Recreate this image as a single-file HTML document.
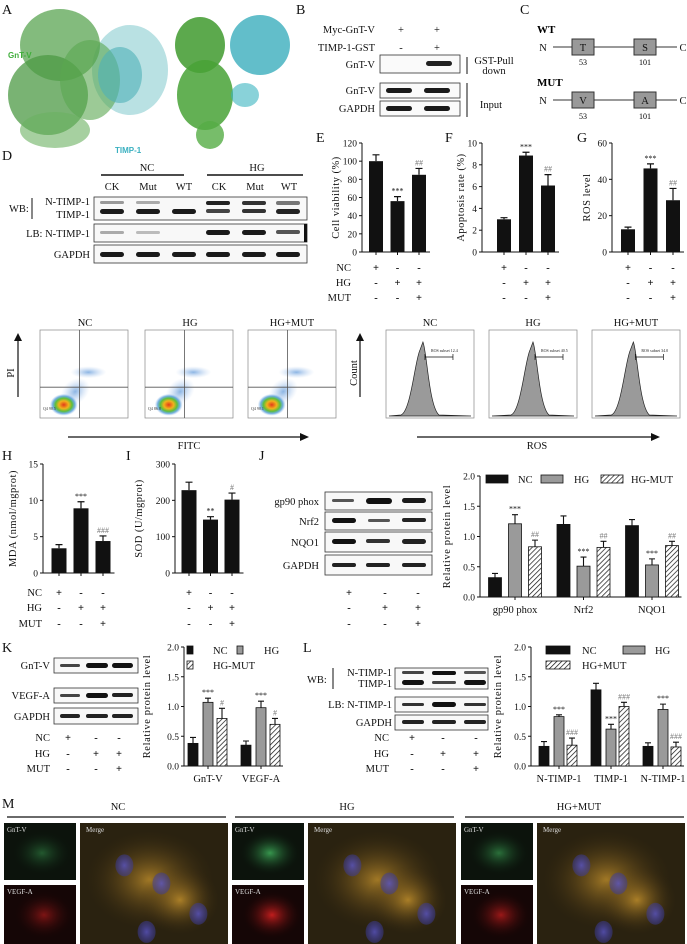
<!DOCTYPE html>
<html><head><meta charset="utf-8">
<style>
html,body{margin:0;padding:0;background:#fff;}
svg{display:block;font-family:"Liberation Serif",serif;}
.t{font-size:10.5px;fill:#111;}
.pl{font-size:14px;fill:#111;}
.tk{font-size:9.5px;fill:#111;}
</style></head>
<body>
<svg id="fig" width="687" height="944" viewBox="0 0 687 944" xmlns="http://www.w3.org/2000/svg">
<defs>
 <pattern id="hatch" patternUnits="userSpaceOnUse" width="3.5" height="3.5" patternTransform="rotate(45)">
  <rect width="3.5" height="3.5" fill="#fff"/><line x1="0" y1="0" x2="0" y2="3.5" stroke="#111" stroke-width="1.4"/>
 </pattern>
 <radialGradient id="gcore"><stop offset="0" stop-color="#e23a1a"/><stop offset=".35" stop-color="#f2b21c"/><stop offset=".6" stop-color="#5cbf3a"/><stop offset=".8" stop-color="#3a8fd6" stop-opacity=".7"/><stop offset="1" stop-color="#8fb8e8" stop-opacity="0"/></radialGradient>
 <radialGradient id="gcloud"><stop offset="0" stop-color="#5a95d8" stop-opacity=".7"/><stop offset="1" stop-color="#a9c6ee" stop-opacity="0"/></radialGradient>
 <radialGradient id="ggreen"><stop offset="0" stop-color="#3fae5a"/><stop offset="1" stop-color="#0b1a0e" stop-opacity="0"/></radialGradient>
 <radialGradient id="gred"><stop offset="0" stop-color="#d42020"/><stop offset="1" stop-color="#1a0505" stop-opacity="0"/></radialGradient>
 <radialGradient id="gyel"><stop offset="0" stop-color="#d8a030"/><stop offset="1" stop-color="#3a2a10" stop-opacity="0"/></radialGradient>
 <radialGradient id="gblue"><stop offset="0" stop-color="#5a55c8"/><stop offset="1" stop-color="#3a3a9a" stop-opacity=".6"/></radialGradient>
</defs>

<!-- Panel A -->
<text class="pl" x="2" y="14">A</text>
<g>
 <ellipse cx="130" cy="70" rx="38" ry="45" fill="#7fc8cc" opacity=".55"/>
 <ellipse cx="60" cy="45" rx="40" ry="36" fill="#4f9e46" opacity=".7"/>
 <ellipse cx="48" cy="95" rx="40" ry="40" fill="#4c9a44" opacity=".75"/>
 <ellipse cx="55" cy="130" rx="35" ry="18" fill="#6bb060" opacity=".6"/>
 <ellipse cx="90" cy="80" rx="30" ry="40" fill="#5aa650" opacity=".6"/>
 <ellipse cx="120" cy="75" rx="22" ry="28" fill="#4fb0b8" opacity=".6"/>
 <text x="8" y="58" font-family="Liberation Sans" font-size="8" font-weight="bold" fill="#3fae3a">GnT-V</text>
 <text x="115" y="153" font-family="Liberation Sans" font-size="8" font-weight="bold" fill="#3ab0c0">TIMP-1</text>
</g>
<g>
 <ellipse cx="200" cy="45" rx="25" ry="28" fill="#3f9a2e" opacity=".85"/>
 <ellipse cx="205" cy="95" rx="28" ry="35" fill="#48a236" opacity=".85"/>
 <ellipse cx="210" cy="135" rx="14" ry="14" fill="#55ad45" opacity=".8"/>
 <ellipse cx="260" cy="45" rx="30" ry="30" fill="#2ea8b8" opacity=".75"/>
 <ellipse cx="245" cy="95" rx="14" ry="12" fill="#3ab4c0" opacity=".6"/>
</g>

<!-- Panel B -->
<text class="pl" x="296" y="14">B</text>
<text class="t" x="375" y="33" text-anchor="end">Myc-GnT-V</text>
<text class="t" x="375" y="51" text-anchor="end">TIMP-1-GST</text>
<text class="t" x="401" y="33" text-anchor="middle">+</text><text class="t" x="437" y="33" text-anchor="middle">+</text>
<text class="t" x="401" y="51" text-anchor="middle">-</text><text class="t" x="437" y="51" text-anchor="middle">+</text>
<g>
 <rect x="380" y="55" width="80" height="18" fill="#fafafa" stroke="#333" stroke-width=".8"/>
 <rect x="426" y="61" width="26" height="5" rx="2.5" fill="#222"/>
 <rect x="380" y="83" width="80" height="15" fill="#fafafa" stroke="#333" stroke-width=".8"/>
 <rect x="386" y="88" width="26" height="5" rx="2.5" fill="#1a1a1a"/><rect x="424" y="88" width="26" height="5" rx="2.5" fill="#1a1a1a"/>
 <rect x="380" y="101" width="80" height="15" fill="#fafafa" stroke="#333" stroke-width=".8"/>
 <rect x="386" y="106" width="26" height="5" rx="2.5" fill="#1a1a1a"/><rect x="424" y="106" width="26" height="5" rx="2.5" fill="#1a1a1a"/>
</g>
<text class="t" x="375" y="68" text-anchor="end">GnT-V</text>
<text class="t" x="375" y="94" text-anchor="end">GnT-V</text>
<text class="t" x="375" y="112" text-anchor="end">GAPDH</text>
<line x1="467" y1="57" x2="467" y2="74" stroke="#111"/>
<text class="t" x="494" y="64" text-anchor="middle">GST-Pull</text>
<text class="t" x="494" y="74" text-anchor="middle">down</text>
<line x1="467" y1="83" x2="467" y2="117" stroke="#111"/>
<text class="t" x="491" y="108" text-anchor="middle">Input</text>

<!-- Panel C -->
<text class="pl" x="520" y="14">C</text>
<g>
 <text x="537" y="33" font-size="11" font-weight="bold">WT</text>
 <text class="t" x="543" y="51" text-anchor="middle">N</text>
 <line x1="553" y1="47" x2="677" y2="47" stroke="#333"/>
 <text class="t" x="683" y="51" text-anchor="middle">C</text>
 <rect x="572" y="39" width="22" height="16" fill="#999" stroke="#333"/><text class="t" x="583" y="51" text-anchor="middle">T</text>
 <rect x="634" y="39" width="22" height="16" fill="#999" stroke="#333"/><text class="t" x="645" y="51" text-anchor="middle">S</text>
 <text x="583" y="65" font-size="8" text-anchor="middle">53</text><text x="645" y="65" font-size="8" text-anchor="middle">101</text>
</g>
<g>
 <text x="537" y="86" font-size="11" font-weight="bold">MUT</text>
 <text class="t" x="543" y="104" text-anchor="middle">N</text>
 <line x1="553" y1="100" x2="677" y2="100" stroke="#333"/>
 <text class="t" x="683" y="104" text-anchor="middle">C</text>
 <rect x="572" y="92" width="22" height="16" fill="#999" stroke="#333"/><text class="t" x="583" y="104" text-anchor="middle">V</text>
 <rect x="634" y="92" width="22" height="16" fill="#999" stroke="#333"/><text class="t" x="645" y="104" text-anchor="middle">A</text>
 <text x="583" y="119" font-size="8" text-anchor="middle">53</text><text x="645" y="119" font-size="8" text-anchor="middle">101</text>
</g>

<!-- Panel D -->
<text class="pl" x="2" y="160">D</text>
<text class="t" x="147" y="171" text-anchor="middle">NC</text><text class="t" x="257" y="171" text-anchor="middle">HG</text>
<line x1="101" y1="175" x2="184" y2="175" stroke="#111" stroke-width="1.5"/><line x1="207" y1="175" x2="303" y2="175" stroke="#111" stroke-width="1.5"/>
<g><text x="112" y="190" text-anchor="middle" class="t">CK</text><text x="148" y="190" text-anchor="middle" class="t">Mut</text><text x="184" y="190" text-anchor="middle" class="t">WT</text><text x="219" y="190" text-anchor="middle" class="t">CK</text><text x="255" y="190" text-anchor="middle" class="t">Mut</text><text x="289" y="190" text-anchor="middle" class="t">WT</text></g>
<g>
 <rect x="94" y="197" width="213" height="23" fill="#f8f8f8" stroke="#333" stroke-width=".8"/>
 <rect x="100" y="201" width="24" height="3" rx="1.5" fill="#999"/><rect x="136" y="201" width="24" height="3" rx="1.5" fill="#aaa"/>
 <rect x="206" y="201" width="24" height="4" rx="2" fill="#222"/><rect x="242" y="201" width="24" height="4" rx="2" fill="#333"/><rect x="276" y="201" width="24" height="4" rx="2" fill="#777"/>
 <rect x="100" y="209" width="24" height="5" rx="2.5" fill="#1a1a1a"/><rect x="136" y="209" width="24" height="5" rx="2.5" fill="#1a1a1a"/><rect x="172" y="209" width="24" height="5" rx="2.5" fill="#1a1a1a"/>
 <rect x="206" y="209" width="24" height="4" rx="2" fill="#444"/><rect x="242" y="209" width="24" height="4" rx="2" fill="#333"/><rect x="276" y="209" width="24" height="5" rx="2.5" fill="#222"/>
 <rect x="94" y="224" width="213" height="18" fill="#f8f8f8" stroke="#333" stroke-width=".8"/>
 <rect x="100" y="231" width="24" height="3" rx="1.5" fill="#aaa"/><rect x="136" y="231" width="24" height="3" rx="1.5" fill="#bbb"/>
 <rect x="206" y="230" width="24" height="5" rx="2.5" fill="#1a1a1a"/><rect x="242" y="230" width="24" height="5" rx="2.5" fill="#1a1a1a"/><rect x="276" y="230" width="24" height="4" rx="2" fill="#555"/>
 <rect x="304" y="224" width="3" height="18" fill="#111"/>
 <rect x="94" y="245" width="213" height="18" fill="#f8f8f8" stroke="#333" stroke-width=".8"/>
 <rect x="100" y="252" width="24" height="5" rx="2.5" fill="#1a1a1a"/><rect x="136" y="252" width="24" height="5" rx="2.5" fill="#1a1a1a"/><rect x="172" y="252" width="24" height="5" rx="2.5" fill="#1a1a1a"/><rect x="206" y="252" width="24" height="5" rx="2.5" fill="#1a1a1a"/><rect x="242" y="252" width="24" height="5" rx="2.5" fill="#1a1a1a"/><rect x="276" y="252" width="24" height="5" rx="2.5" fill="#1a1a1a"/>
</g>
<text class="t" x="9" y="212">WB:</text>
<line x1="32" y1="198" x2="32" y2="219" stroke="#111"/>
<text class="t" x="90" y="205" text-anchor="end">N-TIMP-1</text>
<text class="t" x="90" y="218" text-anchor="end">TIMP-1</text>
<text class="t" x="90" y="237" text-anchor="end">LB: N-TIMP-1</text>
<text class="t" x="90" y="258" text-anchor="end">GAPDH</text>

<text class="pl" x="316" y="142">E</text>
<text class="pl" x="445" y="142">F</text>
<text class="pl" x="577" y="142">G</text>

<!-- flow cytometry row -->
<g>
<text x="85" y="326" text-anchor="middle" class="t">NC</text><text x="190" y="326" text-anchor="middle" class="t">HG</text><text x="292" y="326" text-anchor="middle" class="t">HG+MUT</text>
<text x="430" y="326" text-anchor="middle" class="t">NC</text><text x="533" y="326" text-anchor="middle" class="t">HG</text><text x="636" y="326" text-anchor="middle" class="t">HG+MUT</text>
</g>
<g id="flowArea"></g>
<line x1="18" y1="397" x2="18" y2="339" stroke="#111" stroke-width="1.2"/><polygon points="14,341 22,341 18,333" fill="#111"/>
<text class="t" x="0" y="0" transform="translate(14,373) rotate(-90)" text-anchor="middle">PI</text>
<line x1="68" y1="437" x2="302" y2="437" stroke="#111" stroke-width="1.2"/><polygon points="300,433 300,441 309,437" fill="#111"/>
<text class="t" x="189" y="449" text-anchor="middle">FITC</text>
<line x1="360" y1="397" x2="360" y2="339" stroke="#111" stroke-width="1.2"/><polygon points="356,341 364,341 360,333" fill="#111"/>
<text class="t" x="0" y="0" transform="translate(357,373) rotate(-90)" text-anchor="middle">Count</text>
<line x1="417" y1="437" x2="653" y2="437" stroke="#111" stroke-width="1.2"/><polygon points="651,433 651,441 660,437" fill="#111"/>
<text class="t" x="537" y="449" text-anchor="middle">ROS</text>

<text class="pl" x="2" y="460">H</text>
<text class="pl" x="126" y="460">I</text>
<text class="pl" x="259" y="460">J</text>
<g>
 <rect x="325" y="492" width="107" height="18" fill="#f8f8f8" stroke="#333" stroke-width=".8"/>
 <rect x="332" y="499" width="22" height="3" rx="1.5" fill="#555"/><rect x="366" y="498" width="26" height="6" rx="3" fill="#111"/><rect x="402" y="498" width="24" height="5" rx="2.5" fill="#1a1a1a"/>
 <rect x="325" y="512" width="107" height="18" fill="#f8f8f8" stroke="#333" stroke-width=".8"/>
 <rect x="332" y="518" width="24" height="5" rx="2.5" fill="#111"/><rect x="368" y="519" width="22" height="3" rx="1.5" fill="#555"/><rect x="402" y="518" width="24" height="4" rx="2" fill="#222"/>
 <rect x="325" y="532" width="107" height="20" fill="#f8f8f8" stroke="#333" stroke-width=".8"/>
 <rect x="332" y="539" width="24" height="5" rx="2.5" fill="#111"/><rect x="366" y="539" width="24" height="4" rx="2" fill="#333"/><rect x="402" y="539" width="24" height="5" rx="2.5" fill="#222"/>
 <rect x="325" y="555" width="107" height="20" fill="#f8f8f8" stroke="#333" stroke-width=".8"/>
 <rect x="332" y="563" width="24" height="4" rx="2" fill="#222"/><rect x="366" y="563" width="24" height="4" rx="2" fill="#222"/><rect x="402" y="563" width="24" height="4" rx="2" fill="#222"/>
</g>
<text class="t" x="319" y="505" text-anchor="end">gp90 phox</text>
<text class="t" x="319" y="525" text-anchor="end">Nrf2</text>
<text class="t" x="319" y="546" text-anchor="end">NQO1</text>
<text class="t" x="319" y="569" text-anchor="end">GAPDH</text>

<text class="pl" x="2" y="652">K</text>
<g>
 <rect x="54" y="658" width="84" height="15" fill="#f8f8f8" stroke="#333" stroke-width=".8"/>
 <rect x="60" y="664" width="20" height="3" rx="1.5" fill="#444"/><rect x="86" y="663" width="22" height="5" rx="2.5" fill="#111"/><rect x="112" y="663" width="21" height="5" rx="2.5" fill="#111"/>
 <rect x="54" y="688" width="84" height="15" fill="#f8f8f8" stroke="#333" stroke-width=".8"/>
 <rect x="60" y="694" width="20" height="3" rx="1.5" fill="#444"/><rect x="86" y="693" width="22" height="5" rx="2.5" fill="#111"/><rect x="112" y="693" width="21" height="4" rx="2" fill="#222"/>
 <rect x="54" y="708" width="84" height="16" fill="#f8f8f8" stroke="#333" stroke-width=".8"/>
 <rect x="60" y="714" width="20" height="4" rx="2" fill="#222"/><rect x="86" y="714" width="22" height="4" rx="2" fill="#222"/><rect x="112" y="714" width="21" height="4" rx="2" fill="#222"/>
</g>
<text class="t" x="50" y="669" text-anchor="end">GnT-V</text>
<text class="t" x="50" y="699" text-anchor="end">VEGF-A</text>
<text class="t" x="50" y="720" text-anchor="end">GAPDH</text>

<text class="pl" x="303" y="652">L</text>
<g>
 <rect x="395" y="668" width="93" height="21" fill="#f8f8f8" stroke="#333" stroke-width=".8"/>
 <rect x="402" y="671" width="22" height="3" rx="1.5" fill="#444"/><rect x="432" y="671" width="24" height="4" rx="2" fill="#111"/><rect x="464" y="671" width="22" height="3" rx="1.5" fill="#555"/>
 <rect x="402" y="680" width="22" height="5" rx="2.5" fill="#111"/><rect x="432" y="681" width="24" height="3" rx="1.5" fill="#444"/><rect x="464" y="680" width="22" height="5" rx="2.5" fill="#111"/>
 <rect x="395" y="697" width="93" height="15" fill="#f8f8f8" stroke="#333" stroke-width=".8"/>
 <rect x="402" y="703" width="22" height="3" rx="1.5" fill="#333"/><rect x="432" y="702" width="24" height="5" rx="2.5" fill="#111"/><rect x="464" y="703" width="22" height="3" rx="1.5" fill="#333"/>
 <rect x="395" y="715" width="93" height="15" fill="#f8f8f8" stroke="#333" stroke-width=".8"/>
 <rect x="402" y="720" width="22" height="4" rx="2" fill="#222"/><rect x="432" y="720" width="24" height="4" rx="2" fill="#222"/><rect x="464" y="720" width="22" height="4" rx="2" fill="#222"/>
</g>
<text class="t" x="307" y="683">WB:</text>
<line x1="333" y1="668" x2="333" y2="689" stroke="#111"/>
<text class="t" x="392" y="676" text-anchor="end">N-TIMP-1</text>
<text class="t" x="392" y="687" text-anchor="end">TIMP-1</text>
<text class="t" x="392" y="708" text-anchor="end">LB: N-TIMP-1</text>
<text class="t" x="392" y="726" text-anchor="end">GAPDH</text>

<g id="charts"></g>

<!-- Panel M -->
<text class="pl" x="2" y="808">M</text>
<text class="t" x="118" y="810" text-anchor="middle">NC</text>
<text class="t" x="347" y="810" text-anchor="middle">HG</text>
<text class="t" x="579" y="810" text-anchor="middle">HG+MUT</text>
<line x1="7" y1="817" x2="226" y2="817" stroke="#111" stroke-width="1.3"/>
<line x1="235" y1="817" x2="454" y2="817" stroke="#111" stroke-width="1.3"/>
<line x1="465" y1="817" x2="684" y2="817" stroke="#111" stroke-width="1.3"/>
<g id="micro"></g>
</svg>
<script>
const NS='http://www.w3.org/2000/svg';
function mk(tag,attrs,parent){const e=document.createElementNS(NS,tag);for(const k in attrs)e.setAttribute(k,attrs[k]);parent.appendChild(e);return e;}

/* ---------- chart data ---------- */
const groupsSimple=['NC','HG','HG+MUT'];
const eValues=[100,56,85]; const eErrors=[7,5,7]; const eMarks=['','***','##'];
const eTicks=[0,20,40,60,80,100,120];
const fValues=[3.0,8.85,6.1]; const fErrors=[0.15,0.3,1.0]; const fMarks=['','***','##'];
const fTicks=[0,2,4,6,8,10];
const gValues=[12.5,46,28.5]; const gErrors=[1.2,2.5,6.5]; const gMarks=['','***','##'];
const gTicks=[0,20,40,60];
const hValues=[3.4,8.9,4.4]; const hErrors=[0.5,0.9,0.7]; const hMarks=['','***','###'];
const hTicks=[0,5,10,15];
const iValues=[228,147,202]; const iErrors=[22,8,18]; const iMarks=['','**','#'];
const iTicks=[0,100,200,300];
const relTicks=['0.0','0.5','1.0','1.5','2.0'];
const jCategories=['gp90 phox','Nrf2','NQO1'];
const jNC=[0.32,1.2,1.18]; const jHG=[1.21,0.51,0.53]; const jMUT=[0.83,0.82,0.85];
const jNCerr=[0.07,0.14,0.1]; const jHGerr=[0.15,0.15,0.1]; const jMUTerr=[0.11,0.1,0.07];
const jHGmarks=['***','***','***']; const jMUTmarks=['##','##','##'];
const jLegend=['NC','HG','HG-MUT'];
const kCategories=['GnT-V','VEGF-A'];
const kNC=[0.38,0.35]; const kHG=[1.07,0.98]; const kMUT=[0.8,0.7];
const kNCerr=[0.1,0.07]; const kHGerr=[0.07,0.11]; const kMUTerr=[0.17,0.1];
const kHGmarks=['***','***']; const kMUTmarks=['#','#'];
const kLegend=['NC','HG','HG-MUT'];
const lCategories=['N-TIMP-1','TIMP-1','N-TIMP-1'];
const lNC=[0.33,1.28,0.33]; const lHG=[0.83,0.62,0.95]; const lMUT=[0.35,1.0,0.32];
const lNCerr=[0.08,0.11,0.06]; const lHGerr=[0.03,0.08,0.09]; const lMUTerr=[0.12,0.07,0.08];
const lHGmarks=['***','***','***']; const lMUTmarks=['###','###','###'];
const lLegend=['NC','HG','HG+MUT'];
const signNC=['+','-','-']; const signHG=['-','+','+']; const signMUT=['-','-','+'];

const charts=document.getElementById('charts');

function simpleChart(name,cfg,values,errors,marks,ticks){
  const g=mk('g',{},charts);
  
  
  const max=ticks[ticks.length-1];
  const y=v=>cfg.y0-(v/max)*(cfg.y0-cfg.yTop);
  const x=i=>cfg.ax+cfg.off+i*cfg.sp;
  const ya=mk('line',{x1:cfg.ax,y1:cfg.yTop,x2:cfg.ax,y2:cfg.y0,stroke:'#111','stroke-width':1},g);
  
  
  const xa=mk('line',{x1:cfg.ax,y1:cfg.y0,x2:x(values.length-1)+cfg.bw/2+4,y2:cfg.y0,stroke:'#111','stroke-width':1},g);
  
  
  ticks.forEach(t=>{
    mk('line',{x1:cfg.ax-3,y1:y(t),x2:cfg.ax,y2:y(t),stroke:'#111'},g);
    const tl=mk('text',{x:cfg.ax-5,y:y(t)+3.5,'text-anchor':'end',class:'tk'},g);
    tl.textContent=t;
    
    
  });
  values.forEach((v,i)=>{
    const b=mk('rect',{x:x(i)-cfg.bw/2,y:y(v),width:cfg.bw,height:cfg.y0-y(v),fill:'#111'},g);
    
    
    const e=mk('path',{d:`M${x(i)} ${y(v)}V${y(v+errors[i])}M${x(i)-3.5} ${y(v+errors[i])}H${x(i)+3.5}`,stroke:'#111','stroke-width':1.2,fill:'none'},g);
    
    
    mk('line',{x1:x(i),y1:cfg.y0,x2:x(i),y2:cfg.y0+3,stroke:'#111'},g);
    if(marks[i]){
      const m=mk('text',{x:x(i),y:y(v+errors[i])-3,'text-anchor':'middle','font-size':8,fill:marks[i][0]=='#'?'#777':'#111'},g);
      m.textContent=marks[i];
      
      
    }
  });
  const yl=mk('text',{transform:`translate(${cfg.labX},${(cfg.yTop+cfg.y0)/2}) rotate(-90)`,'text-anchor':'middle',class:'t','letter-spacing':'0.5'},g);
  yl.textContent=cfg.label;
  
  
  signRows(g,values.map((_,i)=>x(i)),cfg.rows,cfg.rowLabelX);
}
function signRows(g,xs,rows,labelX){
  const sets=[signNC,signHG,signMUT]; const names=['NC','HG','MUT'];
  rows.forEach((ry,r)=>{
    if(labelX){const l=mk('text',{x:labelX,y:ry+4,'text-anchor':'end',class:'t'},g);l.textContent=names[r];
      
      }
    xs.forEach((xx,i)=>{const s=mk('text',{x:xx,y:ry+4,'text-anchor':'middle',class:'t','font-weight':'bold'},g);s.textContent=sets[r][i];
      
      });
  });
}
simpleChart('chart-e-cell-viability',{ax:362,yTop:143,y0:252,off:14,sp:21.5,bw:14,label:'Cell viability (%)',labX:339,rows:[267,282,297],rowLabelX:351},eValues,eErrors,eMarks,eTicks);
simpleChart('chart-f-apoptosis',{ax:482,yTop:143,y0:252,off:22,sp:22,bw:14,label:'Apoptosis rate (%)',labX:464,rows:[267,282,297],rowLabelX:0},fValues,fErrors,fMarks,fTicks);
simpleChart('chart-g-ros',{ax:612,yTop:143,y0:252,off:16,sp:22.5,bw:14,label:'ROS level',labX:590,rows:[267,282,297],rowLabelX:0},gValues,gErrors,gMarks,gTicks);
simpleChart('chart-h-mda',{ax:43,yTop:464,y0:573,off:16,sp:22,bw:15,label:'MDA (nmol/mgprot)',labX:16,rows:[592,607,623],rowLabelX:42},hValues,hErrors,hMarks,hTicks);
simpleChart('chart-i-sod',{ax:175,yTop:464,y0:573,off:14,sp:21.5,bw:15,label:'SOD (U/mgprot)',labX:142,rows:[592,607,623],rowLabelX:0},iValues,iErrors,iMarks,iTicks);

function groupChart(name,cfg,cats,series,errs,hgMarks,mutMarks,legendNames){
  const g=mk('g',{},charts);
  
  
  const max=2.0;
  const y=v=>cfg.y0-(v/max)*(cfg.y0-cfg.yTop);
  const gx=c=>cfg.ax+cfg.off+c*cfg.sp;
  const fills=['#111','#9a9a9a','url(#hatch)'];
  const ya=mk('line',{x1:cfg.ax,y1:cfg.yTop,x2:cfg.ax,y2:cfg.y0,stroke:'#111'},g);
  
  
  const xa=mk('line',{x1:cfg.ax,y1:cfg.y0,x2:gx(cats.length-1)+cfg.bo[2]+cfg.bw/2+3,y2:cfg.y0,stroke:'#111'},g);
  
  
  relTicks.forEach(t=>{
    mk('line',{x1:cfg.ax-3,y1:y(+t),x2:cfg.ax,y2:y(+t),stroke:'#111'},g);
    const tl=mk('text',{x:cfg.ax-5,y:y(+t)+3.5,'text-anchor':'end',class:'tk'},g);tl.textContent=t;
    
    
  });
  cats.forEach((c,ci)=>{
    mk('line',{x1:gx(ci),y1:cfg.y0,x2:gx(ci),y2:cfg.y0+3,stroke:'#111'},g);
    const cl=mk('text',{x:gx(ci),y:cfg.y0+16,'text-anchor':'middle',class:'t'},g);cl.textContent=c;
    
    
    series.forEach((s,si)=>{
      const bx=gx(ci)+cfg.bo[si]; const v=s[ci]; const e=errs[si][ci];
      const b=mk('rect',{x:bx-cfg.bw/2,y:y(v),width:cfg.bw,height:cfg.y0-y(v),fill:fills[si],stroke:'#111','stroke-width':0.8},g);
      
      
      const eb=mk('path',{d:`M${bx} ${y(v)}V${y(v+e)}M${bx-3} ${y(v+e)}H${bx+3}`,stroke:'#111','stroke-width':1.1,fill:'none'},g);
      
      
      const mark=si==1?hgMarks[ci]:si==2?mutMarks[ci]:'';
      if(mark){const m=mk('text',{x:bx,y:y(v+e)-3,'text-anchor':'middle','font-size':8,fill:si==2?'#777':'#111'},g);m.textContent=mark;
        
        }
    });
  });
  const yl=mk('text',{transform:`translate(${cfg.labX},${(cfg.yTop+cfg.y0)/2}) rotate(-90)`,'text-anchor':'middle',class:'t','letter-spacing':'0.6'},g);
  yl.textContent='Relative protein level';
  
  
  cfg.legend.forEach((L,i)=>{
    const lg=mk('g',{},g);
    
    
    mk('rect',{x:L[0],y:L[1]-4,width:L[2],height:8,fill:fills[i],stroke:'#111','stroke-width':0.8},lg);
    const lt=mk('text',{x:L[3],y:L[1]+4,class:'t'},lg);
    lt.textContent=legendNames[i];
  });
}
groupChart('chart-j-protein',{ax:480,yTop:476,y0:597,off:35,sp:68.5,bo:[-20,0,20],bw:13,labX:450,
  legend:[[486,479,22,518],[541,479,22,574],[601,479,22,631]]},
  jCategories,[jNC,jHG,jMUT],[jNCerr,jHGerr,jMUTerr],jHGmarks,jMUTmarks,jLegend);
groupChart('chart-k-protein',{ax:184,yTop:647,y0:766,off:24,sp:53,bo:[-15,0,14],bw:10,labX:150,
  legend:[[187,650,6,213],[237,650,6,264],[187,665,6,213]]},
  kCategories,[kNC,kHG,kMUT],[kNCerr,kHGerr,kMUTerr],kHGmarks,kMUTmarks,kLegend);
groupChart('chart-l-protein',{ax:531,yTop:647,y0:766,off:28,sp:52,bo:[-15,0,13],bw:10,labX:501,
  legend:[[546,650,24,582],[623,650,22,655],[546,665,24,582]]},
  lCategories,[lNC,lHG,lMUT],[lNCerr,lHGerr,lMUTerr],lHGmarks,lMUTmarks,lLegend);
{const sg=mk('g',{},charts);
 
 
 signRows(sg,[349,385,418],[592,607,623],0);}
{const sg=mk('g',{},charts);
 
 
 signRows(sg,[68,96,119],[737,753,768],50);}
{const sg=mk('g',{},charts);
 
 
 signRows(sg,[412,443,476],[737,753,768],389);}

/* ---------- flow cytometry ---------- */
const flow=document.getElementById('flowArea');
const scatterX=[40,145,248];
const scatterQ4=['90.5','86.8','90.1'];
scatterX.forEach((sx,k)=>{
  const g=mk('g',{},flow);
  
  
  const w=88,h=88,top=330;
  mk('rect',{x:sx,y:top,width:w,height:h,fill:'#fff',stroke:'#888','stroke-width':0.7},g);
  mk('ellipse',{cx:sx+w*0.55,cy:top+h*0.48,rx:18,ry:6,fill:'url(#gcloud)'},g);
  mk('ellipse',{cx:sx+w*0.4,cy:top+h*0.7,rx:16,ry:12,fill:'url(#gcloud)',transform:`rotate(-40 ${sx+w*0.4} ${top+h*0.7})`},g);
  mk('ellipse',{cx:sx+w*0.27,cy:top+h*0.85,rx:14,ry:11,fill:'url(#gcore)'},g);
  mk('line',{x1:sx+w*0.45,y1:top,x2:sx+w*0.45,y2:top+h,stroke:'#555','stroke-width':0.8},g);
  mk('line',{x1:sx,y1:top+h*0.65,x2:sx+w,y2:top+h*0.65,stroke:'#555','stroke-width':0.8},g);
  const q=mk('text',{x:sx+3,y:top+h-8,'font-size':4,fill:'#333'},g);q.textContent='Q4 '+scatterQ4[k];
});
const histX=[386,489,592]; const histPeak=[0.42,0.5,0.47]; const rosSubset=['12.4','40.5','34.0'];
histX.forEach((hx,k)=>{
  const g=mk('g',{},flow);
  
  
  const w=88,h=88,top=330;
  mk('rect',{x:hx,y:top,width:w,height:h,fill:'#fff',stroke:'#888','stroke-width':0.7},g);
  const p=hx+w*histPeak[k],b=top+h-2;
  mk('path',{d:`M${hx+3} ${b} L${p-22} ${b-1} C${p-12} ${b-5} ${p-8} ${top+30} ${p-3} ${top+20} L${p} ${top+12} C${p+4} ${top+22} ${p+6} ${b-10} ${p+16} ${b-1} L${hx+w-3} ${b} Z`,fill:'#9a9a9a',stroke:'#222','stroke-width':0.7},g);
  mk('path',{d:`M${p+2} ${top+27}H${p+30}M${p+2} ${top+24}V${top+30}M${p+30} ${top+24}V${top+30}`,stroke:'#111','stroke-width':0.7},g);
  const t=mk('text',{x:p+8,y:top+22,'font-size':4,fill:'#222'},g);t.textContent='ROS subset '+rosSubset[k];
});

/* ---------- immunofluorescence ---------- */
const micro=document.getElementById('micro');
const smallX=[4,232,461]; const mergeX=[80,308,537];
const greenStrength=[0.45,0.85,0.6]; const redStrength=[0.55,0.9,0.7];
smallX.forEach((x0,k)=>{
  const gg=mk('g',{},micro);
  
  
  mk('rect',{x:x0,y:823,width:72,height:57,fill:'#0c130c'},gg);
  mk('ellipse',{cx:x0+38,cy:853,rx:30,ry:22,fill:'url(#ggreen)',opacity:greenStrength[k]},gg);
  const t=mk('text',{x:x0+3,y:832,'font-size':7,fill:'#ddd'},gg);t.textContent='GnT-V';
  const rg=mk('g',{},micro);
  
  
  mk('rect',{x:x0,y:885,width:72,height:59,fill:'#150606'},rg);
  mk('ellipse',{cx:x0+40,cy:915,rx:30,ry:24,fill:'url(#gred)',opacity:redStrength[k]},rg);
  const t2=mk('text',{x:x0+3,y:894,'font-size':7,fill:'#ddd'},rg);t2.textContent='VEGF-A';
  const mg=mk('g',{},micro);
  
  
  const mx=mergeX[k];
  mk('rect',{x:mx,y:823,width:148,height:121,fill:'#2a2210'},mg);
  mk('ellipse',{cx:mx+70,cy:880,rx:65,ry:50,fill:'url(#gyel)',opacity:0.7},mg);
  mk('ellipse',{cx:mx+100,cy:900,rx:40,ry:35,fill:'url(#gyel)',opacity:0.7},mg);
  [[0.3,0.35],[0.55,0.5],[0.8,0.75],[0.45,0.9]].forEach(n=>{
    mk('ellipse',{cx:mx+148*n[0],cy:823+121*n[1],rx:9,ry:11,fill:'url(#gblue)',opacity:0.8},mg);
  });
  const t3=mk('text',{x:mx+6,y:832,'font-size':7,fill:'#ddd'},mg);t3.textContent='Merge';
});
</script>
</body></html>
